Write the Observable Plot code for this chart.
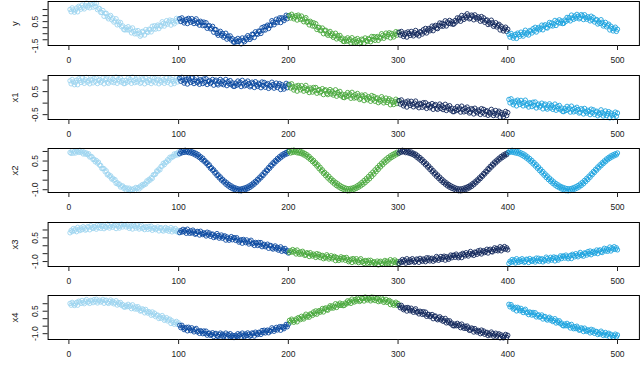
<!DOCTYPE html>
<html><head><meta charset="utf-8">
<script src="https://cdn.jsdelivr.net/npm/d3@7"></script>
<script src="https://cdn.jsdelivr.net/npm/@observablehq/plot@0.6"></script>
<style>
body{margin:0;background:#fff;}
#chart{position:relative;width:640px;height:388px;overflow:hidden;background:#fff;}
#chart > div{position:absolute;left:0;}
</style></head><body><div id="chart"></div>
<script>
const PANEL_NAMES = ["y","x1","x2","x3","x4"];
const SEGMENT_LABELS = ["1-100","101-200","201-300","301-400","401-500"];
const COLORS = ["#9ed5ef","#0b4aa0","#4aa83d","#14295c","#1ea4df"];
const X_TICKS = [0,100,200,300,400,500];
const Y_TICKS = [[-1.5,-1,-0.5,0,0.5,1,1.5],[-0.5,0,0.5,1],[-1,-0.5,0,0.5,1],[-1,-0.5,0,0.5,1],[-1,-0.5,0,0.5,1]];
const Y_LABELED = [[-1.5,0.5],[-0.5,0.5],[-1,0.5],[-1,0.5],[-1,0.5]];

const Y = [
1.51,1.31,1.64,1.47,1.28,1.45,1.63,1.31,1.77,1.67,
1.53,1.87,1.68,1.55,1.83,2.03,1.70,1.83,1.64,2.00,
1.91,1.70,2.01,1.76,2.01,1.49,1.61,1.58,1.26,1.26,
1.42,0.94,1.18,1.19,0.88,0.73,0.90,1.01,0.65,0.79,
0.46,0.55,0.74,0.23,0.47,0.26,0.43,0.07,0.15,-0.15,
-0.19,0.00,-0.18,0.08,-0.20,-0.09,-0.43,-0.02,-0.32,-0.51,
-0.27,-0.51,-0.24,-0.45,-0.71,-0.60,-0.31,-0.35,-0.61,-0.16,
-0.34,-0.39,-0.13,-0.17,-0.35,0.12,-0.11,0.16,-0.12,0.12,
0.22,-0.08,0.17,0.11,0.49,0.35,0.13,0.32,0.58,0.29,
0.48,0.63,0.21,0.58,0.45,0.32,0.56,0.77,0.49,0.74,
0.74,0.51,0.81,0.61,0.39,0.54,0.69,0.34,0.77,0.64,
0.45,0.75,0.52,0.34,0.58,0.73,0.36,0.45,0.21,0.53,
0.42,0.17,0.46,0.19,0.41,-0.05,0.13,0.17,-0.10,-0.04,
0.11,-0.38,-0.16,-0.16,-0.48,-0.63,-0.44,-0.30,-0.64,-0.48,
-0.79,-0.67,-0.46,-0.95,-0.69,-0.87,-0.68,-1.02,-0.91,-1.19,
-1.21,-1.00,-1.16,-0.89,-1.14,-1.01,-1.34,-0.85,-1.05,-1.16,
-0.85,-1.00,-0.66,-0.79,-0.97,-0.84,-0.54,-0.56,-0.81,-0.34,
-0.50,-0.55,-0.28,-0.31,-0.48,0.00,-0.21,0.08,-0.19,0.08,
0.21,-0.07,0.21,0.17,0.58,0.45,0.24,0.44,0.70,0.43,
0.64,0.81,0.42,0.82,0.71,0.58,0.81,1.03,0.74,0.99,
1.01,0.80,1.11,0.93,0.73,0.86,0.99,0.63,1.04,0.89,
0.68,0.96,0.69,0.49,0.71,0.83,0.44,0.50,0.23,0.53,
0.40,0.14,0.41,0.12,0.33,-0.15,0.01,0.03,-0.25,-0.21,
-0.03,-0.50,-0.24,-0.21,-0.51,-0.63,-0.44,-0.31,-0.66,-0.50,
-0.80,-0.68,-0.46,-0.93,-0.66,-0.84,-0.64,-0.97,-0.86,-1.13,
-1.15,-0.94,-1.11,-0.84,-1.10,-0.96,-1.27,-0.83,-1.09,-1.25,
-0.98,-1.19,-0.90,-1.08,-1.32,-1.22,-0.95,-1.01,-1.29,-0.85,
-1.06,-1.14,-0.90,-0.96,-1.17,-0.73,-0.98,-0.74,-1.05,-0.83,
-0.73,-1.05,-0.80,-0.88,-0.50,-0.64,-0.88,-0.69,-0.45,-0.74,
-0.56,-0.42,-0.84,-0.48,-0.62,-0.77,-0.54,-0.33,-0.62,-0.38,
-0.38,-0.61,-0.31,-0.51,-0.73,-0.58,-0.43,-0.78,-0.35,-0.48,
-0.64,-0.31,-0.53,-0.68,-0.41,-0.23,-0.57,-0.47,-0.68,-0.33,
-0.37,-0.53,-0.17,-0.36,-0.06,-0.44,-0.19,-0.07,-0.26,-0.12,
0.13,-0.25,0.08,0.19,-0.03,-0.08,0.19,0.39,0.13,0.36,
0.12,0.29,0.57,0.14,0.47,0.35,0.60,0.33,0.49,0.28,
0.31,0.59,0.48,0.81,0.62,0.80,0.53,1.01,0.80,0.68,
0.98,0.82,1.15,0.97,0.73,0.80,1.04,0.96,0.65,1.06,
0.83,0.72,0.90,0.79,0.53,0.92,0.61,0.81,0.44,0.60,
0.64,0.26,0.45,0.31,0.62,0.41,0.11,0.23,0.41,0.06,
0.19,0.28,-0.19,0.12,-0.07,-0.27,-0.10,0.04,-0.31,-0.13,
-0.56,-0.78,-0.47,-0.66,-0.87,-0.71,-0.55,-0.89,-0.45,-0.57,
-0.71,-0.37,-0.56,-0.70,-0.41,-0.21,-0.54,-0.41,-0.61,-0.24,
-0.28,-0.44,-0.08,-0.27,0.03,-0.36,-0.10,0.01,-0.17,-0.04,
0.21,-0.18,0.15,0.24,0.02,-0.03,0.23,0.43,0.16,0.39,
0.14,0.32,0.60,0.18,0.51,0.39,0.65,0.38,0.55,0.34,
0.36,0.63,0.52,0.85,0.65,0.83,0.56,1.04,0.81,0.69,
0.97,0.79,1.10,0.94,0.73,0.82,1.08,0.99,0.67,1.07,
0.83,0.70,0.90,0.80,0.56,0.95,0.64,0.84,0.47,0.64,
0.67,0.30,0.48,0.35,0.66,0.45,0.14,0.26,0.44,0.07,
0.20,0.29,-0.19,0.12,-0.07,-0.27,-0.10,0.04,-0.31,-0.13
];

const X1 = [
0.97,0.84,1.03,0.92,0.80,0.90,1.00,0.80,1.06,0.99,
0.90,1.09,0.96,0.86,1.02,1.12,0.91,0.97,0.84,1.04,
1.00,0.88,1.08,0.94,1.10,0.85,0.98,1.03,0.90,0.96,
1.09,0.84,1.02,1.06,0.91,0.86,1.00,1.10,0.92,1.04,
0.89,0.98,1.13,0.86,1.04,0.95,1.09,0.91,0.99,0.85,
0.85,0.99,0.91,1.09,0.95,1.04,0.86,1.13,0.98,0.89,
1.04,0.92,1.10,1.00,0.86,0.91,1.06,1.02,0.84,1.09,
0.96,0.90,1.03,0.98,0.85,1.10,0.94,1.08,0.88,1.00,
1.04,0.84,0.97,0.91,1.12,1.02,0.86,0.96,1.09,0.90,
1.00,1.08,0.82,1.03,0.94,0.85,0.98,1.10,0.92,1.06,
1.09,0.95,1.12,1.00,0.87,0.96,1.04,0.83,1.09,1.01,
0.90,1.09,0.95,0.85,1.01,1.11,0.89,0.95,0.82,1.02,
0.97,0.85,1.05,0.90,1.06,0.81,0.94,0.98,0.85,0.91,
1.03,0.78,0.96,1.00,0.84,0.79,0.93,1.03,0.84,0.96,
0.80,0.88,1.03,0.76,0.94,0.84,0.98,0.80,0.88,0.73,
0.73,0.87,0.78,0.96,0.82,0.91,0.72,0.99,0.84,0.75,
0.90,0.78,0.96,0.85,0.71,0.76,0.91,0.86,0.68,0.93,
0.79,0.73,0.86,0.81,0.67,0.92,0.76,0.90,0.69,0.81,
0.85,0.64,0.77,0.71,0.91,0.81,0.65,0.75,0.87,0.68,
0.78,0.85,0.59,0.80,0.70,0.61,0.74,0.86,0.67,0.81,
0.81,0.66,0.84,0.71,0.57,0.66,0.74,0.52,0.77,0.69,
0.58,0.76,0.63,0.52,0.67,0.77,0.55,0.60,0.46,0.66,
0.61,0.48,0.68,0.53,0.68,0.43,0.55,0.59,0.45,0.51,
0.63,0.37,0.55,0.58,0.42,0.37,0.50,0.59,0.40,0.52,
0.35,0.43,0.58,0.30,0.47,0.38,0.51,0.32,0.39,0.25,
0.24,0.37,0.29,0.46,0.31,0.40,0.21,0.47,0.31,0.22,
0.37,0.24,0.42,0.31,0.16,0.21,0.35,0.30,0.11,0.36,
0.22,0.15,0.28,0.22,0.08,0.33,0.16,0.29,0.08,0.20,
0.23,0.02,0.15,0.08,0.28,0.18,0.01,0.10,0.22,0.03,
0.12,0.19,-0.07,0.13,0.03,-0.06,0.06,0.17,-0.02,0.11,
0.11,-0.04,0.14,0.01,-0.12,-0.04,0.05,-0.17,0.09,0.00,
-0.10,0.08,-0.05,-0.16,0.00,0.09,-0.12,-0.07,-0.20,-0.01,
-0.05,-0.18,0.02,-0.13,0.02,-0.23,-0.11,-0.06,-0.20,-0.14,
-0.02,-0.27,-0.10,-0.06,-0.22,-0.27,-0.14,-0.04,-0.23,-0.11,
-0.28,-0.19,-0.05,-0.32,-0.15,-0.25,-0.11,-0.30,-0.22,-0.37,
-0.37,-0.24,-0.32,-0.15,-0.29,-0.21,-0.39,-0.13,-0.28,-0.38,
-0.22,-0.35,-0.17,-0.28,-0.43,-0.38,-0.24,-0.28,-0.47,-0.22,
-0.36,-0.42,-0.30,-0.35,-0.49,-0.24,-0.41,-0.27,-0.48,-0.36,
-0.33,-0.53,-0.41,-0.47,-0.27,-0.38,-0.54,-0.45,-0.32,-0.52,
-0.42,-0.35,-0.61,-0.41,-0.50,-0.60,-0.47,-0.36,-0.54,-0.41,
0.16,0.01,0.19,0.06,-0.07,0.01,0.09,-0.12,0.13,0.05,
-0.06,0.12,-0.01,-0.12,0.03,0.13,-0.09,-0.03,-0.17,0.02,
-0.02,-0.15,0.04,-0.10,0.05,-0.21,-0.08,-0.04,-0.17,-0.12,
0.00,-0.25,-0.08,-0.04,-0.20,-0.26,-0.12,-0.03,-0.21,-0.10,
-0.27,-0.18,-0.04,-0.31,-0.14,-0.24,-0.10,-0.29,-0.21,-0.36,
-0.37,-0.23,-0.32,-0.14,-0.29,-0.21,-0.39,-0.13,-0.28,-0.38,
-0.23,-0.35,-0.18,-0.28,-0.43,-0.39,-0.24,-0.29,-0.47,-0.23,
-0.37,-0.43,-0.31,-0.36,-0.50,-0.26,-0.42,-0.29,-0.49,-0.38,
-0.35,-0.55,-0.43,-0.49,-0.29,-0.40,-0.56,-0.47,-0.34,-0.54,
-0.45,-0.37,-0.64,-0.43,-0.53,-0.63,-0.50,-0.39,-0.57,-0.43
];

const X2 = [
0.95,0.90,1.03,0.91,1.00,0.92,1.04,1.00,0.95,1.06,
0.96,1.03,0.87,0.96,0.86,0.92,0.83,0.88,0.71,0.74,
0.72,0.58,0.59,0.46,0.53,0.39,0.44,0.28,0.27,0.11,
0.11,0.10,-0.06,-0.01,-0.22,-0.19,-0.30,-0.27,-0.44,-0.40,
-0.51,-0.47,-0.67,-0.63,-0.72,-0.70,-0.86,-0.81,-0.80,-0.93,
-0.89,-1.02,-0.91,-1.00,-0.92,-1.05,-0.98,-1.03,-0.95,-1.04,
-0.88,-0.95,-0.89,-0.96,-0.81,-0.86,-0.73,-0.77,-0.69,-0.71,
-0.54,-0.58,-0.46,-0.50,-0.37,-0.41,-0.22,-0.21,-0.18,-0.02,
-0.04,0.08,0.04,0.22,0.23,0.38,0.31,0.44,0.44,0.57,
0.52,0.70,0.66,0.73,0.72,0.87,0.80,0.90,0.82,0.98,
0.88,1.00,0.93,1.04,0.95,1.06,0.97,1.03,0.94,1.02,
0.92,0.99,0.88,0.95,0.82,0.90,0.76,0.83,0.68,0.73,
0.58,0.65,0.49,0.52,0.38,0.41,0.26,0.30,0.12,0.15,
0.01,0.04,-0.13,-0.09,-0.26,-0.22,-0.38,-0.33,-0.50,-0.45,
-0.60,-0.55,-0.71,-0.64,-0.80,-0.73,-0.88,-0.80,-0.95,-0.87,
-0.99,-0.91,-1.04,-0.95,-1.05,-0.97,-1.06,-0.94,-1.03,-0.91,
-0.99,-0.87,-0.95,-0.81,-0.88,-0.74,-0.80,-0.65,-0.71,-0.56,
-0.61,-0.45,-0.49,-0.34,-0.38,-0.22,-0.26,-0.09,-0.13,0.03,
0.00,0.16,0.12,0.29,0.25,0.41,0.37,0.52,0.48,0.63,
0.58,0.73,0.67,0.82,0.76,0.89,0.83,0.95,0.88,1.00,
1.01,0.92,1.05,0.95,1.07,0.97,1.04,0.93,1.03,0.91,
1.00,0.88,0.96,0.82,0.90,0.76,0.83,0.67,0.74,0.58,
0.63,0.47,0.53,0.36,0.41,0.24,0.30,0.10,0.17,-0.02,
0.04,-0.15,-0.09,-0.27,-0.19,-0.39,-0.30,-0.50,-0.42,-0.60,
-0.52,-0.70,-0.61,-0.79,-0.69,-0.86,-0.77,-0.93,-0.84,-0.98,
-0.89,-1.03,-0.93,-1.06,-0.95,-1.05,-0.93,-1.02,-0.90,-0.98,
-0.86,-0.93,-0.79,-0.87,-0.71,-0.80,-0.62,-0.72,-0.52,-0.63,
-0.42,-0.53,-0.31,-0.43,-0.19,-0.31,-0.08,-0.19,0.04,-0.06,
0.16,0.06,0.28,0.19,0.39,0.30,0.50,0.41,0.60,0.50,
0.69,0.60,0.77,0.68,0.84,0.75,0.90,0.82,0.96,0.88,
0.92,1.03,0.96,1.06,0.99,1.04,0.94,1.02,0.93,0.99,
0.89,0.97,0.85,0.91,0.79,0.86,0.70,0.77,0.61,0.68,
0.52,0.58,0.41,0.47,0.30,0.36,0.18,0.24,0.06,0.12,
-0.06,0.00,-0.18,-0.12,-0.30,-0.23,-0.41,-0.34,-0.52,-0.45,
-0.62,-0.55,-0.71,-0.64,-0.80,-0.72,-0.87,-0.79,-0.93,-0.85,
-0.97,-0.90,-1.03,-0.94,-1.05,-0.96,-1.06,-0.95,-1.04,-0.92,
-1.00,-0.88,-0.96,-0.83,-0.90,-0.76,-0.83,-0.68,-0.74,-0.59,
-0.64,-0.49,-0.53,-0.38,-0.42,-0.27,-0.30,-0.15,-0.18,-0.03,
-0.06,0.10,0.06,0.22,0.18,0.34,0.29,0.45,0.40,0.55,
0.50,0.65,0.60,0.74,0.68,0.82,0.76,0.88,0.83,0.94,
0.94,1.04,0.97,1.06,0.95,1.03,0.92,1.01,0.90,0.98,
0.86,0.93,0.80,0.88,0.73,0.81,0.65,0.72,0.56,0.63,
0.46,0.53,0.35,0.42,0.24,0.31,0.12,0.19,0.00,0.07,
-0.12,-0.05,-0.24,-0.17,-0.36,-0.28,-0.47,-0.39,-0.57,-0.49,
-0.67,-0.59,-0.76,-0.68,-0.84,-0.75,-0.90,-0.82,-0.96,-0.87,
-1.00,-0.91,-1.05,-0.94,-1.06,-0.95,-1.04,-0.93,-1.01,-0.89,
-0.97,-0.84,-0.92,-0.78,-0.86,-0.70,-0.78,-0.61,-0.69,-0.51,
-0.58,-0.40,-0.47,-0.29,-0.35,-0.17,-0.22,-0.05,-0.10,0.07,
0.02,0.19,0.14,0.30,0.25,0.41,0.36,0.51,0.46,0.61,
0.56,0.69,0.64,0.77,0.71,0.83,0.77,0.88,0.82,0.92
];

const X3 = [
0.82,0.97,0.90,1.09,0.96,1.06,0.89,1.17,1.04,0.96,
1.13,1.02,1.21,1.12,0.99,1.05,1.21,1.18,1.01,1.27,
1.14,1.09,1.22,1.18,1.05,1.31,1.15,1.30,1.10,1.23,
1.27,1.08,1.21,1.16,1.37,1.27,1.12,1.22,1.36,1.17,
1.27,1.35,1.09,1.30,1.21,1.12,1.25,1.37,1.19,1.33,
1.33,1.19,1.36,1.24,1.10,1.19,1.27,1.06,1.31,1.23,
1.12,1.31,1.17,1.06,1.22,1.31,1.10,1.15,1.02,1.21,
1.16,1.04,1.23,1.08,1.24,0.98,1.11,1.15,1.02,1.07,
1.19,0.94,1.11,1.15,0.99,0.93,1.07,1.16,0.98,1.09,
0.92,1.01,1.15,0.88,1.05,0.95,1.09,0.90,0.98,0.83,
0.83,0.96,0.87,1.04,0.89,0.98,0.79,1.05,0.89,0.79,
0.94,0.81,0.99,0.88,0.73,0.77,0.91,0.87,0.68,0.92,
0.78,0.71,0.82,0.76,0.62,0.86,0.69,0.81,0.60,0.71,
0.74,0.52,0.64,0.57,0.77,0.65,0.48,0.57,0.68,0.48,
0.57,0.63,0.36,0.56,0.45,0.35,0.47,0.58,0.38,0.51,
0.50,0.34,0.51,0.37,0.23,0.31,0.38,0.16,0.40,0.31,
0.20,0.37,0.23,0.11,0.26,0.35,0.12,0.17,0.02,0.21,
0.16,0.02,0.21,0.05,0.20,-0.06,0.05,0.09,-0.06,-0.01,
0.10,-0.16,0.00,0.02,-0.15,-0.21,-0.09,-0.01,-0.20,-0.10,
-0.28,-0.20,-0.07,-0.35,-0.19,-0.30,-0.17,-0.37,-0.30,-0.46,
-0.43,-0.31,-0.40,-0.24,-0.40,-0.32,-0.52,-0.27,-0.43,-0.54,
-0.39,-0.52,-0.35,-0.46,-0.61,-0.58,-0.44,-0.49,-0.68,-0.44,
-0.58,-0.65,-0.53,-0.59,-0.74,-0.50,-0.67,-0.54,-0.75,-0.64,
-0.61,-0.82,-0.70,-0.77,-0.57,-0.67,-0.84,-0.75,-0.63,-0.83,
-0.74,-0.67,-0.94,-0.74,-0.83,-0.93,-0.81,-0.70,-0.89,-0.76,
-0.77,-0.92,-0.74,-0.87,-1.01,-0.93,-0.85,-1.06,-0.81,-0.90,
-1.01,-0.82,-0.96,-1.07,-0.91,-0.82,-1.04,-0.99,-1.12,-0.93,
-0.98,-1.11,-0.92,-1.07,-0.92,-1.17,-1.05,-1.01,-1.15,-1.10,
-0.97,-1.21,-1.03,-0.98,-1.13,-1.18,-1.03,-0.93,-1.10,-0.98,
-1.13,-1.04,-0.88,-1.14,-0.96,-1.04,-0.90,-1.07,-0.99,-1.12,
-1.12,-0.98,-1.06,-0.87,-1.01,-0.92,-1.10,-0.82,-0.97,-1.06,
-0.89,-1.01,-0.82,-0.92,-1.05,-1.00,-0.84,-0.88,-1.05,-0.80,
-0.92,-0.98,-0.84,-0.89,-1.01,-0.76,-0.91,-0.77,-0.96,-0.84,
-0.79,-0.98,-0.85,-0.90,-0.68,-0.77,-0.92,-0.82,-0.68,-0.86,
-0.75,-0.66,-0.91,-0.69,-0.78,-0.86,-0.72,-0.59,-0.76,-0.61,
-0.60,-0.73,-0.53,-0.64,-0.76,-0.66,-0.56,-0.75,-0.48,-0.55,
-0.64,-0.44,-0.56,-0.65,-0.48,-0.36,-0.56,-0.49,-0.61,-0.40,
-0.43,-0.54,-0.32,-0.45,-0.28,-0.52,-0.38,-0.31,-0.43,-0.36,
-0.22,-0.46,-0.27,-0.22,-0.36,-0.39,-0.24,-0.13,-0.30,-0.17,
-0.32,-0.22,-0.06,-0.32,-0.13,-0.20,-0.05,-0.22,-0.13,-0.26,
-1.12,-0.98,-1.05,-0.87,-1.01,-0.91,-1.09,-0.82,-0.96,-1.05,
-0.89,-1.00,-0.82,-0.92,-1.05,-1.00,-0.85,-0.88,-1.06,-0.81,
-0.94,-0.99,-0.86,-0.91,-1.03,-0.78,-0.94,-0.79,-0.99,-0.87,
-0.82,-1.02,-0.88,-0.94,-0.72,-0.81,-0.97,-0.86,-0.73,-0.91,
-0.80,-0.71,-0.96,-0.74,-0.83,-0.91,-0.77,-0.64,-0.81,-0.66,
-0.65,-0.78,-0.59,-0.70,-0.82,-0.71,-0.61,-0.81,-0.54,-0.61,
-0.70,-0.50,-0.61,-0.70,-0.53,-0.42,-0.62,-0.54,-0.66,-0.45,
-0.48,-0.59,-0.37,-0.50,-0.33,-0.57,-0.43,-0.36,-0.48,-0.41,
-0.27,-0.50,-0.31,-0.26,-0.39,-0.43,-0.28,-0.16,-0.33,-0.20,
-0.35,-0.24,-0.08,-0.33,-0.14,-0.22,-0.06,-0.23,-0.13,-0.26
];

const X4 = [
1.02,0.90,1.09,0.99,0.88,0.98,1.09,0.90,1.17,1.11,
1.02,1.22,1.09,1.00,1.17,1.28,1.08,1.14,1.02,1.23,
1.19,1.07,1.28,1.14,1.30,1.05,1.18,1.24,1.11,1.17,
1.29,1.03,1.21,1.24,1.08,1.02,1.15,1.25,1.06,1.17,
0.99,1.06,1.20,0.91,1.07,0.96,1.08,0.89,0.95,0.79,
0.77,0.89,0.80,0.96,0.80,0.87,0.67,0.93,0.76,0.65,
0.79,0.64,0.80,0.67,0.51,0.54,0.66,0.60,0.39,0.62,
0.46,0.37,0.47,0.39,0.23,0.45,0.26,0.37,0.14,0.23,
0.24,0.01,0.12,0.03,0.21,0.08,-0.11,-0.03,0.07,-0.15,
-0.08,-0.03,-0.32,-0.14,-0.26,-0.37,-0.27,-0.18,-0.39,-0.28,
-0.44,-0.60,-0.44,-0.58,-0.73,-0.65,-0.58,-0.81,-0.57,-0.67,
-0.79,-0.61,-0.76,-0.88,-0.73,-0.65,-0.88,-0.83,-0.98,-0.80,
-0.86,-1.00,-0.82,-0.98,-0.83,-1.10,-0.99,-0.96,-1.11,-1.06,
-0.94,-1.19,-1.02,-0.98,-1.14,-1.19,-1.06,-0.96,-1.15,-1.03,
-1.19,-1.10,-0.96,-1.23,-1.05,-1.14,-1.00,-1.19,-1.11,-1.25,
-1.25,-1.11,-1.19,-1.00,-1.14,-1.05,-1.23,-0.96,-1.10,-1.19,
-1.02,-1.13,-0.95,-1.04,-1.17,-1.11,-0.95,-0.99,-1.16,-0.90,
-1.01,-1.06,-0.91,-0.94,-1.05,-0.79,-0.93,-0.77,-0.95,-0.82,
-0.76,-0.94,-0.80,-0.84,-0.61,-0.70,-0.84,-0.72,-0.58,-0.75,
-0.63,-0.53,-0.77,-0.53,-0.60,-0.67,-0.52,-0.38,-0.54,-0.38,
-0.11,-0.23,-0.03,-0.13,-0.24,-0.13,-0.02,-0.21,0.07,0.01,
-0.06,0.16,0.05,-0.02,0.17,0.30,0.11,0.20,0.10,0.32,
0.31,0.22,0.45,0.33,0.52,0.30,0.46,0.54,0.43,0.52,
0.68,0.45,0.66,0.72,0.60,0.57,0.74,0.86,0.71,0.85,
0.71,0.82,1.00,0.75,0.95,0.88,1.04,0.89,0.99,0.87,
0.89,1.05,0.99,1.19,1.07,1.18,1.02,1.31,1.18,1.11,
1.28,1.17,1.37,1.28,1.15,1.21,1.37,1.35,1.18,1.44,
1.31,1.25,1.38,1.32,1.19,1.44,1.28,1.42,1.21,1.33,
1.36,1.14,1.26,1.18,1.38,1.27,1.09,1.18,1.29,1.09,
1.17,1.22,0.94,1.12,1.01,0.90,1.00,1.10,0.89,1.01,
0.89,0.73,0.89,0.75,0.60,0.67,0.74,0.51,0.75,0.65,
0.53,0.70,0.55,0.43,0.57,0.66,0.43,0.47,0.32,0.50,
0.44,0.29,0.47,0.30,0.44,0.16,0.27,0.29,0.14,0.17,
0.28,0.00,0.16,0.18,0.00,-0.07,0.05,0.13,-0.08,0.02,
-0.17,-0.11,0.02,-0.28,-0.13,-0.25,-0.14,-0.34,-0.29,-0.46,
-0.48,-0.36,-0.47,-0.31,-0.47,-0.40,-0.60,-0.36,-0.53,-0.64,
-0.50,-0.65,-0.49,-0.61,-0.78,-0.75,-0.62,-0.68,-0.89,-0.66,
-0.81,-0.89,-0.78,-0.85,-1.00,-0.76,-0.94,-0.82,-1.04,-0.94,
-0.91,-1.13,-1.01,-1.08,-0.89,-1.00,-1.17,-1.08,-0.97,-1.17,
-1.08,-1.01,-1.28,-1.08,-1.18,-1.28,-1.16,-1.05,-1.24,-1.11,
0.96,0.79,0.94,0.79,0.64,0.70,0.76,0.52,0.76,0.65,
0.53,0.69,0.54,0.41,0.55,0.63,0.39,0.43,0.27,0.45,
0.39,0.24,0.42,0.26,0.40,0.12,0.23,0.26,0.10,0.14,
0.25,-0.02,0.13,0.15,-0.02,-0.09,0.03,0.10,-0.10,0.00,
-0.19,-0.12,0.00,-0.29,-0.14,-0.25,-0.14,-0.34,-0.29,-0.45,
-0.48,-0.36,-0.47,-0.31,-0.48,-0.42,-0.62,-0.38,-0.55,-0.67,
-0.53,-0.66,-0.50,-0.62,-0.77,-0.74,-0.61,-0.67,-0.86,-0.63,
-0.78,-0.85,-0.74,-0.80,-0.95,-0.71,-0.89,-0.76,-0.98,-0.87,
-0.85,-1.06,-0.95,-1.02,-0.83,-0.94,-1.12,-1.03,-0.92,-1.12,
-1.03,-0.97,-1.24,-1.04,-1.15,-1.25,-1.13,-1.03,-1.22,-1.09
];

const SERIES = [Y, X1, X2, X3, X4];
const PANEL_TOPS = [0, 74, 147, 221, 294];
const FONT = "'Liberation Sans', Arial, Helvetica, sans-serif";

const chart = document.getElementById("chart");
SERIES.forEach((values, i) => {
  const data = values.map((v, k) => ({t: k + 1, v, seg: SEGMENT_LABELS[Math.floor(k / 100)]}));
  const [lo, hi] = d3.extent(values);
  const pad = (hi - lo) * 0.04;
  const dom = [lo - pad, hi + pad];
  const ticks = Y_TICKS[i].filter(d => d >= dom[0] && d <= dom[1]);
  const labeled = Y_LABELED[i];
  const p = Plot.plot({
    width: 640, height: 74,
    marginTop: 1, marginBottom: 29, marginLeft: 47.6, marginRight: 1.1,
    x: {domain: [-18.96, 519.96]},
    y: {domain: dom},
    color: {type: "ordinal", domain: SEGMENT_LABELS, range: COLORS},
    style: {fontFamily: FONT, fontSize: "8.5px", color: "#222", background: "transparent"},
    marks: [
      Plot.dot(data, {x: "t", y: "v", stroke: "seg", r: 2.2, strokeWidth: 0.9}),
      Plot.frame({stroke: "#000", strokeWidth: 1}),
      Plot.axisX({ticks: X_TICKS, tickSize: 5, tickPadding: 6, label: null, tickFormat: d => String(d)}),
      Plot.axisY({ticks, tickSize: 5, tickFormat: () => "", label: null}),
      Plot.text(labeled, {y: d => d, text: d => d.toFixed(1), frameAnchor: "left", dx: -13, rotate: -90, textAnchor: "middle", lineAnchor: "middle", fill: "#222"}),
      Plot.text([PANEL_NAMES[i]], {frameAnchor: "left", dx: -33, rotate: -90, textAnchor: "middle", lineAnchor: "middle", fontSize: 9.5, fill: "#222"})
    ]
  });
  const wrap = document.createElement("div");
  wrap.style.top = PANEL_TOPS[i] + "px";
  wrap.appendChild(p);
  chart.appendChild(wrap);
});
</script></body></html>
